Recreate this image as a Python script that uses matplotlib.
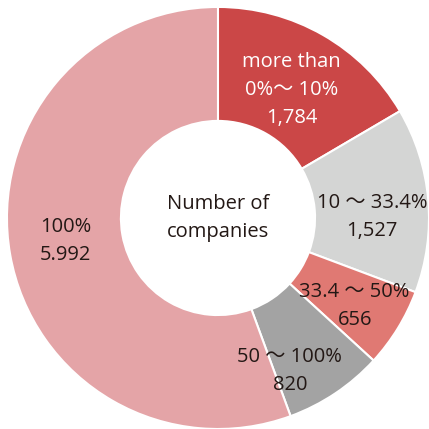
import matplotlib.pyplot as plt
import numpy as np

plt.rcParams['font.family'] = ['Open Sans', 'Noto Sans CJK JP', 'DejaVu Sans']

categories = ["more than\n0%～ 10%", "10 ～ 33.4%", "33.4 ～ 50%", "50 ～ 100%", "100%"]
counts = [1784, 1527, 656, 820, 5992]
count_labels = ["1,784", "1,527", "656", "820", "5.992"]
colors = ["#cb4747", "#d4d5d4", "#e07973", "#a3a3a3", "#e4a4a7"]
text_colors = ["white", "#231815", "#231815", "#231815", "#231815"]

fig = plt.figure(figsize=(4.29, 4.29), dpi=100)
ax = fig.add_axes([0, 0, 1, 1])

wedges, _ = ax.pie(counts, colors=colors, startangle=90, counterclock=False,
                   radius=1, wedgeprops=dict(width=0.54, edgecolor="white", linewidth=1.5))

# label placement: radius fraction and small angle nudge per slice
label_r = [0.70, 0.73, 0.77, 0.80, 0.73]
label_da = [0, -4.5, -1.2, -8.6, -1.5]
for w, cat, cnt, tc, r, da in zip(wedges, categories, count_labels, text_colors, label_r, label_da):
    ang = np.deg2rad((w.theta1 + w.theta2) / 2 + da)
    ax.text(r * np.cos(ang), r * np.sin(ang), cat + "\n" + cnt, ha="center", va="center",
            fontsize=14.5, color=tc, linespacing=1.52)

ax.text(0, 0, "Number of\ncompanies", ha="center", va="center", fontsize=14.5,
        color="#231815", linespacing=1.52)

ax.set_xlim(-1.033, 1.0)
ax.set_ylim(-1.0, 1.033)
ax.set_aspect("equal")
ax.axis("off")

fig.savefig("out.png", dpi=100)
